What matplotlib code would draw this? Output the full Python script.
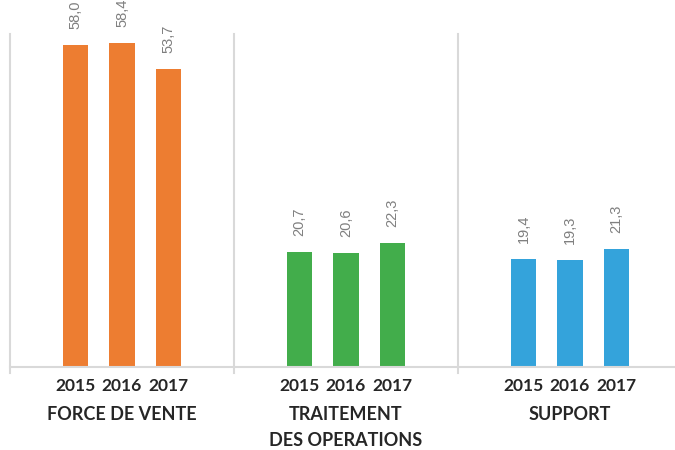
import matplotlib
matplotlib.use("Agg")
import matplotlib.pyplot as plt
import matplotlib.transforms as mtransforms

groups = ["FORCE DE VENTE", "TRAITEMENT\nDES OPERATIONS", "SUPPORT"]
years = ["2015", "2016", "2017"]
values = [
    [58.0, 58.4, 53.7],
    [20.7, 20.6, 22.3],
    [19.4, 19.3, 21.3],
]
colors = ["#ED7D31", "#42AD4B", "#34A3DB"]

fig = plt.figure(figsize=(6.75, 4.5), dpi=100)
ax = fig.add_axes([10 / 675, (450 - 367) / 450, 672 / 675, (367 - 34) / 450])

offset = 0.2076
width = 0.112
xs_all, lab_all = [], []
for g, (grp, vals) in enumerate(zip(groups, values)):
    xs = [g + (j - 1) * offset for j in range(len(years))]
    ax.bar(xs, vals, width=width, color=colors[g], zorder=2)
    for x, v in zip(xs, vals):
        ax.text(x, v + 2.9, f"{v:.1f}".replace(".", ","), rotation=90,
                ha="center", va="bottom", color="#7F7F7F", fontsize=10.5,
                family="Liberation Sans", clip_on=False)
    xs_all += xs
    lab_all += years

ax.set_xlim(-0.5, 2.5)
ax.set_ylim(0, 60)
ax.set_xticks(xs_all)
ax.set_xticklabels(lab_all, fontsize=12.5, fontweight="bold", family="Lato", color="#262626")
ax.tick_params(axis="x", length=0, pad=8)
ax.set_yticks([])
for s in ["top", "right", "left"]:
    ax.spines[s].set_visible(False)
ax.spines["bottom"].set_color("#D9D9D9")
ax.spines["bottom"].set_linewidth(1.5)

trans = mtransforms.blended_transform_factory(ax.transData, ax.transAxes)
for xb in [-0.5, 0.5, 1.5, 2.5]:
    ax.plot([xb, xb], [-6 / 333, 1.0], transform=trans, color="#D9D9D9",
            lw=1.5, clip_on=False, zorder=1)

for g, grp in enumerate(groups):
    ax.text(g, -0.118, grp, transform=trans, ha="center", va="top",
            fontsize=13, fontweight="bold", family="Lato", color="#262626",
            linespacing=1.6)

fig.savefig("out.png", dpi=100)
